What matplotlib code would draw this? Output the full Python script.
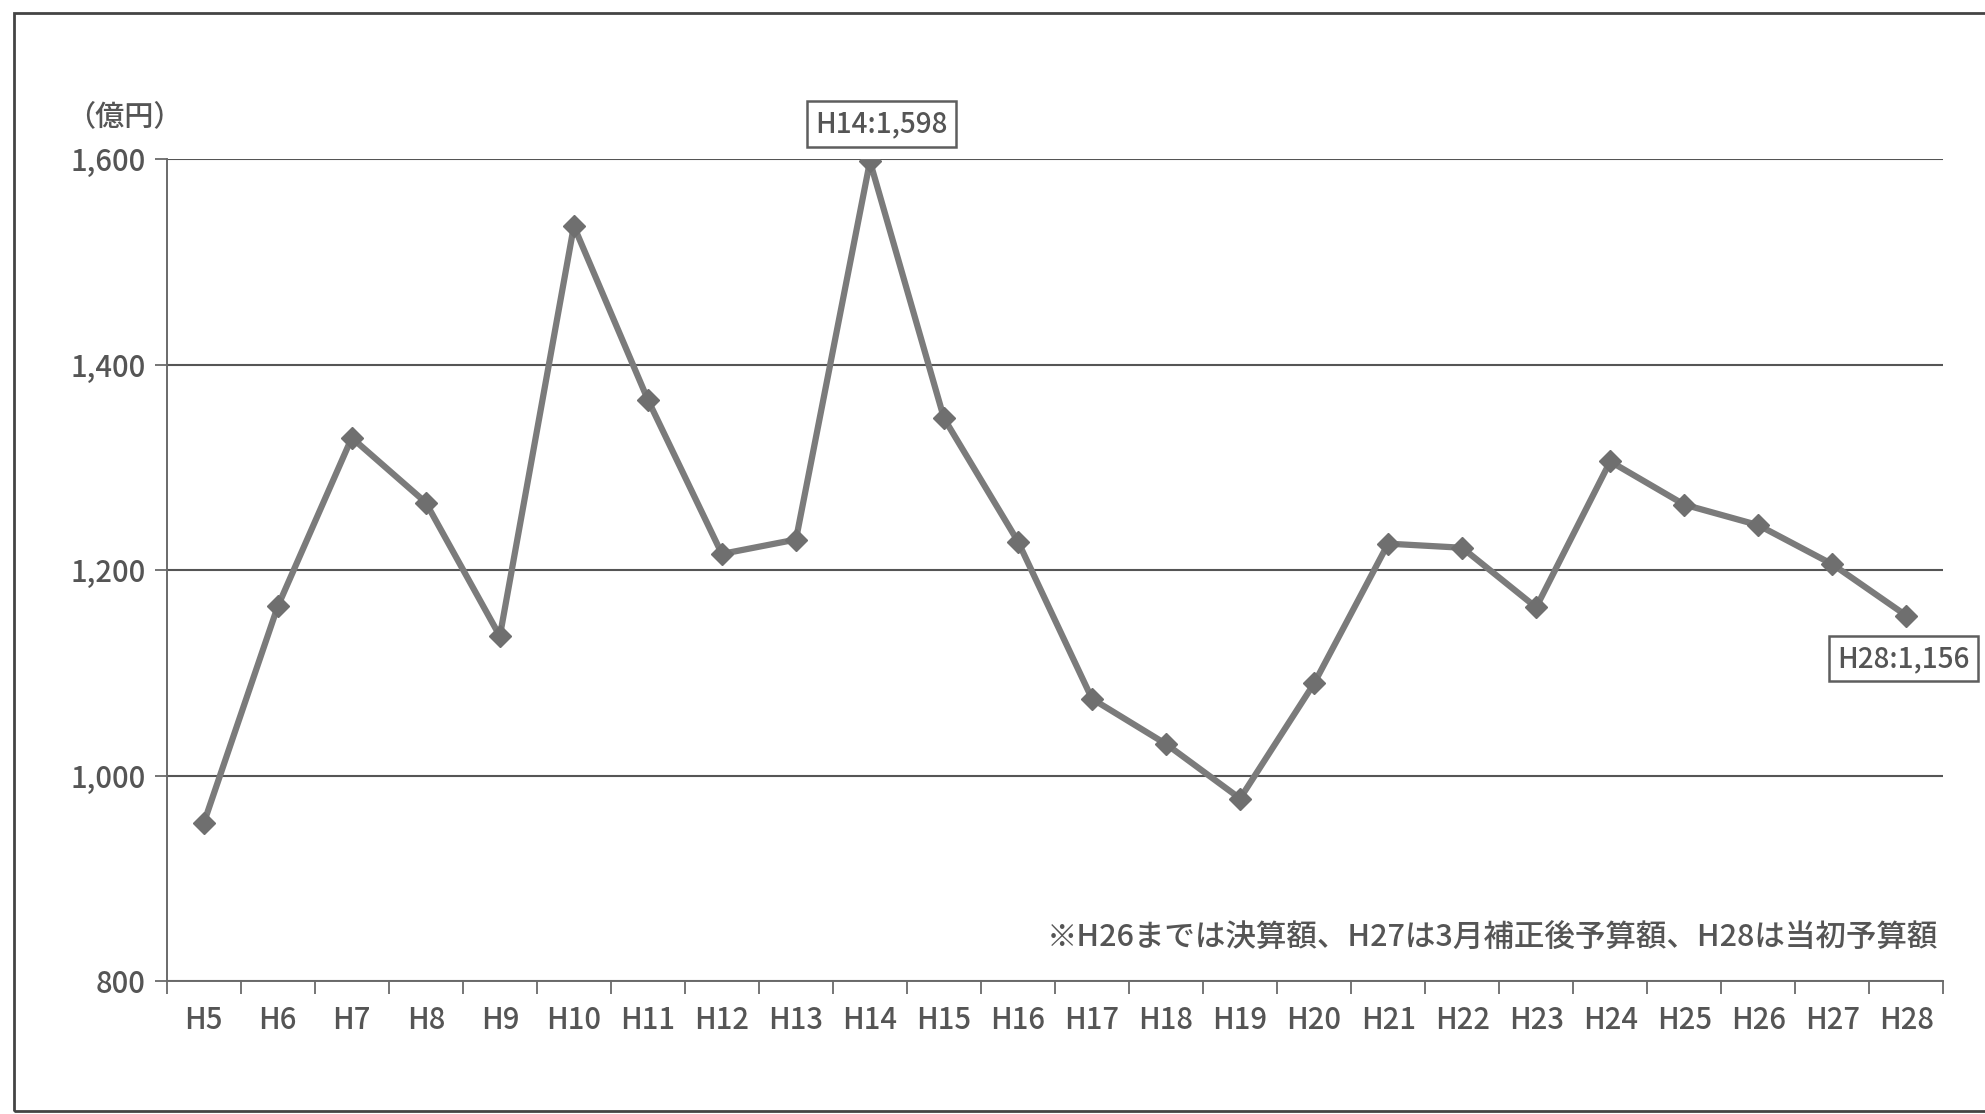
import matplotlib
matplotlib.use('Agg')
import matplotlib.pyplot as plt
from matplotlib.patches import Rectangle
from matplotlib.ticker import FuncFormatter

plt.rcParams['font.family'] = ['Noto Sans CJK JP', 'DejaVu Sans']
plt.rcParams['font.weight'] = 'medium'

# 年度と金額（億円）
years = ['H5', 'H6', 'H7', 'H8', 'H9', 'H10', 'H11', 'H12', 'H13', 'H14', 'H15', 'H16',
         'H17', 'H18', 'H19', 'H20', 'H21', 'H22', 'H23', 'H24', 'H25', 'H26', 'H27', 'H28']
values = [954, 1165, 1329, 1266, 1136, 1535, 1366, 1216, 1230, 1598, 1348, 1228,
          1075, 1031, 978, 1090, 1226, 1222, 1164, 1306, 1264, 1244, 1206, 1156]
note = '※H26までは決算額、H27は3月補正後予算額、H28は当初予算額'

text_col = '#555555'
line_col = '#7b7b7b'

fig = plt.figure(figsize=(19.85, 11.14), dpi=100)
ax = fig.add_axes([0.084, 0.119, 0.895, 0.738])

x = list(range(len(years)))
ax.plot(x, values, color=line_col, lw=4.5, marker='D', ms=11,
        markerfacecolor='#6f6f6f', markeredgecolor='#6f6f6f', zorder=3)

ax.set_xlim(-0.5, len(years) - 0.5)
ax.set_ylim(800, 1600)
ax.set_yticks([800, 1000, 1200, 1400, 1600])
ax.yaxis.set_major_formatter(FuncFormatter(lambda v, p: f'{int(v):,}'))
ax.grid(axis='y', color='#555555', lw=1.5)
ax.set_axisbelow(True)

# x軸: 目盛りは区切り位置、ラベルは中央
ax.set_xticks([i - 0.5 for i in range(len(years) + 1)])
ax.set_xticklabels([])
ax.set_xticks(x, minor=True)
ax.set_xticklabels(years, minor=True)
ax.tick_params(axis='x', which='major', length=9, width=1.3, color='#6a6a6a')
ax.tick_params(axis='x', which='minor', length=0, pad=17, labelsize=21, labelcolor=text_col)
ax.tick_params(axis='y', length=9, width=1.3, color='#6a6a6a', labelsize=21,
               labelcolor=text_col, pad=6)

for s in ['top', 'right']:
    ax.spines[s].set_visible(False)
for s in ['left', 'bottom']:
    ax.spines[s].set_color('#6a6a6a')
    ax.spines[s].set_linewidth(1.4)

fig.text(0.0625, 0.895, '（億円）', ha='center', va='center', fontsize=21, color=text_col)

box = dict(boxstyle='square,pad=0.3', fc='white', ec='#5e5e5e', lw=1.8)
i14 = years.index('H14')
ax.annotate(f'H14:{values[i14]:,}', (i14, values[i14]), xytext=(8, 27),
            textcoords='offset points', ha='center', va='center', fontsize=20,
            color=text_col, bbox=box)
i28 = years.index('H28')
ax.annotate(f'H28:{values[i28]:,}', (i28, values[i28]), xytext=(-2, -31),
            textcoords='offset points', ha='center', va='center', fontsize=20,
            color=text_col, bbox=box, annotation_clip=False)

ax.text(0.997, 0.053, note, transform=ax.transAxes, ha='right', va='center',
        fontsize=22, color=text_col)

# 外枠
fig.patches.append(Rectangle((0.007, 0.003), 1.1, 0.985, transform=fig.transFigure,
                             fill=False, ec='#444444', lw=2))

fig.savefig('out.png', dpi=100, facecolor='white')
